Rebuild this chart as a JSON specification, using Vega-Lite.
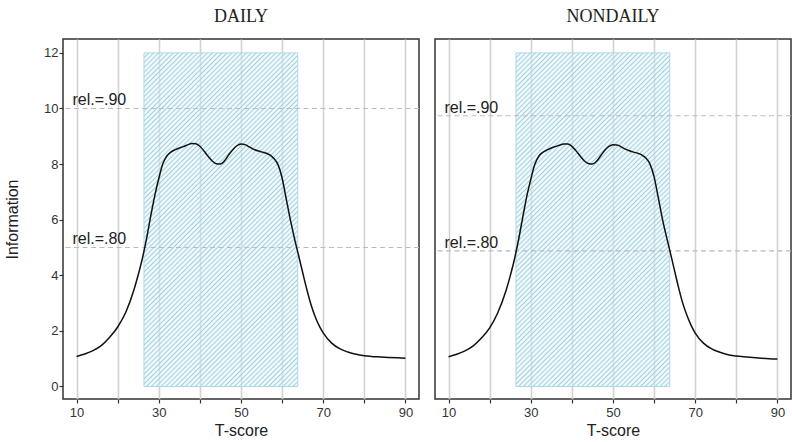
{
  "$schema": "https://vega.github.io/schema/vega-lite/v6.json",
  "padding": {"left": 3, "top": 7, "right": 0, "bottom": 0},
  "background": "white",
  "spacing": 12,
  "config": {
    "view": {"stroke": "#333", "strokeWidth": 1.5},
    "font": "Liberation Sans",
    "axis": {"domain": false, "tickColor": "#333", "tickSize": 4, "tickWidth": 1.2, "labelFont": "Liberation Sans", "labelFontSize": 13, "labelColor": "#333", "titleFont": "Liberation Sans", "titleFontSize": 16, "titleFontWeight": "normal", "titleColor": "#222"}
  },
  "datasets": {
    "box": [{"lo": 26.4, "hi": 63.8, "bottom": 0, "top": 12}],
    "curve_daily": [
      {"T":10,"I":1.08},{"T":12,"I":1.17},{"T":14,"I":1.29},{"T":16,"I":1.47},{"T":18,"I":1.76},{"T":20,"I":2.14},{"T":22,"I":2.68},{"T":24,"I":3.5},{"T":25,"I":4.02},{"T":26,"I":4.6},{"T":27,"I":5.3},{"T":28,"I":6.1},{"T":29,"I":6.85},{"T":30,"I":7.48},{"T":31,"I":8.02},{"T":32,"I":8.3},{"T":33,"I":8.44},{"T":34,"I":8.52},{"T":35,"I":8.58},{"T":36,"I":8.63},{"T":37,"I":8.69},{"T":38,"I":8.74},{"T":39,"I":8.73},{"T":40,"I":8.64},{"T":41,"I":8.47},{"T":42,"I":8.28},{"T":43,"I":8.11},{"T":44,"I":8.01},{"T":45,"I":8.0},{"T":46,"I":8.12},{"T":47,"I":8.33},{"T":48,"I":8.52},{"T":49,"I":8.66},{"T":50,"I":8.72},{"T":51,"I":8.7},{"T":52,"I":8.62},{"T":53,"I":8.54},{"T":54,"I":8.48},{"T":55,"I":8.44},{"T":56,"I":8.4},{"T":57,"I":8.33},{"T":58,"I":8.2},{"T":59,"I":7.98},{"T":60,"I":7.5},{"T":61,"I":6.75},{"T":62,"I":6.0},{"T":63,"I":5.33},{"T":64,"I":4.72},{"T":65,"I":4.1},{"T":66,"I":3.5},{"T":67,"I":2.96},{"T":68,"I":2.53},{"T":69,"I":2.19},{"T":70,"I":1.93},{"T":72,"I":1.57},{"T":74,"I":1.36},{"T":76,"I":1.24},{"T":78,"I":1.16},{"T":80,"I":1.11},{"T":84,"I":1.06},{"T":88,"I":1.03},{"T":90,"I":1.02}
    ],
    "curve_nondaily": [
      {"T":10,"I":1.07},{"T":12,"I":1.16},{"T":14,"I":1.28},{"T":16,"I":1.46},{"T":18,"I":1.74},{"T":20,"I":2.11},{"T":22,"I":2.66},{"T":24,"I":3.46},{"T":25,"I":3.98},{"T":26,"I":4.56},{"T":27,"I":5.26},{"T":28,"I":6.05},{"T":29,"I":6.82},{"T":30,"I":7.45},{"T":31,"I":8.0},{"T":32,"I":8.29},{"T":33,"I":8.43},{"T":34,"I":8.51},{"T":35,"I":8.58},{"T":36,"I":8.63},{"T":37,"I":8.68},{"T":38,"I":8.72},{"T":39,"I":8.72},{"T":40,"I":8.64},{"T":41,"I":8.48},{"T":42,"I":8.29},{"T":43,"I":8.12},{"T":44,"I":8.02},{"T":45,"I":8.0},{"T":46,"I":8.1},{"T":47,"I":8.3},{"T":48,"I":8.5},{"T":49,"I":8.64},{"T":50,"I":8.7},{"T":51,"I":8.69},{"T":52,"I":8.62},{"T":53,"I":8.54},{"T":54,"I":8.48},{"T":55,"I":8.43},{"T":56,"I":8.39},{"T":57,"I":8.33},{"T":58,"I":8.22},{"T":59,"I":8.0},{"T":60,"I":7.54},{"T":61,"I":6.8},{"T":62,"I":6.04},{"T":63,"I":5.39},{"T":64,"I":4.78},{"T":65,"I":4.15},{"T":66,"I":3.53},{"T":67,"I":2.98},{"T":68,"I":2.55},{"T":69,"I":2.2},{"T":70,"I":1.92},{"T":72,"I":1.56},{"T":74,"I":1.35},{"T":76,"I":1.23},{"T":78,"I":1.14},{"T":80,"I":1.1},{"T":84,"I":1.04},{"T":88,"I":1.0},{"T":90,"I":0.99}
    ],
    "ref_daily": [{"info": 10, "label": "rel.=.90"}, {"info": 5, "label": "rel.=.80"}],
    "ref_nondaily": [{"info": 9.74, "label": "rel.=.90"}, {"info": 4.88, "label": "rel.=.80"}]
  },
  "hconcat": [
    {
      "width": 356,
      "height": 360,
      "title": {"text": "DAILY", "font": "Liberation Serif", "fontSize": 18, "fontWeight": "normal", "color": "#222", "anchor": "middle", "frame": "group", "offset": 13},
      "layer": [
        {
          "data": {"name": "box"},
          "mark": {"type": "rect", "stroke": "#add8e6", "strokeWidth": 1,
            "fill": {"gradient": "linear", "x1": 0, "y1": 0, "x2": 0.5537, "y2": 1.2051, "stops": [
{"offset":0,"color":"#9fcfdf"},{"offset":0.0035,"color":"rgba(228,244,249,0.45)"},{"offset":0.0065,"color":"rgba(228,244,249,0.45)"},
{"offset":0.01,"color":"#9fcfdf"},{"offset":0.0135,"color":"rgba(228,244,249,0.45)"},{"offset":0.0165,"color":"rgba(228,244,249,0.45)"},
{"offset":0.02,"color":"#9fcfdf"},{"offset":0.0235,"color":"rgba(228,244,249,0.45)"},{"offset":0.0265,"color":"rgba(228,244,249,0.45)"},
{"offset":0.03,"color":"#9fcfdf"},{"offset":0.0335,"color":"rgba(228,244,249,0.45)"},{"offset":0.0365,"color":"rgba(228,244,249,0.45)"},
{"offset":0.04,"color":"#9fcfdf"},{"offset":0.0435,"color":"rgba(228,244,249,0.45)"},{"offset":0.0465,"color":"rgba(228,244,249,0.45)"},
{"offset":0.05,"color":"#9fcfdf"},{"offset":0.0535,"color":"rgba(228,244,249,0.45)"},{"offset":0.0565,"color":"rgba(228,244,249,0.45)"},
{"offset":0.06,"color":"#9fcfdf"},{"offset":0.0635,"color":"rgba(228,244,249,0.45)"},{"offset":0.0665,"color":"rgba(228,244,249,0.45)"},
{"offset":0.07,"color":"#9fcfdf"},{"offset":0.0735,"color":"rgba(228,244,249,0.45)"},{"offset":0.0765,"color":"rgba(228,244,249,0.45)"},
{"offset":0.08,"color":"#9fcfdf"},{"offset":0.0835,"color":"rgba(228,244,249,0.45)"},{"offset":0.0865,"color":"rgba(228,244,249,0.45)"},
{"offset":0.09,"color":"#9fcfdf"},{"offset":0.0935,"color":"rgba(228,244,249,0.45)"},{"offset":0.0965,"color":"rgba(228,244,249,0.45)"},
{"offset":0.10,"color":"#9fcfdf"},{"offset":0.1035,"color":"rgba(228,244,249,0.45)"},{"offset":0.1065,"color":"rgba(228,244,249,0.45)"},
{"offset":0.11,"color":"#9fcfdf"},{"offset":0.1135,"color":"rgba(228,244,249,0.45)"},{"offset":0.1165,"color":"rgba(228,244,249,0.45)"},
{"offset":0.12,"color":"#9fcfdf"},{"offset":0.1235,"color":"rgba(228,244,249,0.45)"},{"offset":0.1265,"color":"rgba(228,244,249,0.45)"},
{"offset":0.13,"color":"#9fcfdf"},{"offset":0.1335,"color":"rgba(228,244,249,0.45)"},{"offset":0.1365,"color":"rgba(228,244,249,0.45)"},
{"offset":0.14,"color":"#9fcfdf"},{"offset":0.1435,"color":"rgba(228,244,249,0.45)"},{"offset":0.1465,"color":"rgba(228,244,249,0.45)"},
{"offset":0.15,"color":"#9fcfdf"},{"offset":0.1535,"color":"rgba(228,244,249,0.45)"},{"offset":0.1565,"color":"rgba(228,244,249,0.45)"},
{"offset":0.16,"color":"#9fcfdf"},{"offset":0.1635,"color":"rgba(228,244,249,0.45)"},{"offset":0.1665,"color":"rgba(228,244,249,0.45)"},
{"offset":0.17,"color":"#9fcfdf"},{"offset":0.1735,"color":"rgba(228,244,249,0.45)"},{"offset":0.1765,"color":"rgba(228,244,249,0.45)"},
{"offset":0.18,"color":"#9fcfdf"},{"offset":0.1835,"color":"rgba(228,244,249,0.45)"},{"offset":0.1865,"color":"rgba(228,244,249,0.45)"},
{"offset":0.19,"color":"#9fcfdf"},{"offset":0.1935,"color":"rgba(228,244,249,0.45)"},{"offset":0.1965,"color":"rgba(228,244,249,0.45)"},
{"offset":0.20,"color":"#9fcfdf"},{"offset":0.2035,"color":"rgba(228,244,249,0.45)"},{"offset":0.2065,"color":"rgba(228,244,249,0.45)"},
{"offset":0.21,"color":"#9fcfdf"},{"offset":0.2135,"color":"rgba(228,244,249,0.45)"},{"offset":0.2165,"color":"rgba(228,244,249,0.45)"},
{"offset":0.22,"color":"#9fcfdf"},{"offset":0.2235,"color":"rgba(228,244,249,0.45)"},{"offset":0.2265,"color":"rgba(228,244,249,0.45)"},
{"offset":0.23,"color":"#9fcfdf"},{"offset":0.2335,"color":"rgba(228,244,249,0.45)"},{"offset":0.2365,"color":"rgba(228,244,249,0.45)"},
{"offset":0.24,"color":"#9fcfdf"},{"offset":0.2435,"color":"rgba(228,244,249,0.45)"},{"offset":0.2465,"color":"rgba(228,244,249,0.45)"},
{"offset":0.25,"color":"#9fcfdf"},{"offset":0.2535,"color":"rgba(228,244,249,0.45)"},{"offset":0.2565,"color":"rgba(228,244,249,0.45)"},
{"offset":0.26,"color":"#9fcfdf"},{"offset":0.2635,"color":"rgba(228,244,249,0.45)"},{"offset":0.2665,"color":"rgba(228,244,249,0.45)"},
{"offset":0.27,"color":"#9fcfdf"},{"offset":0.2735,"color":"rgba(228,244,249,0.45)"},{"offset":0.2765,"color":"rgba(228,244,249,0.45)"},
{"offset":0.28,"color":"#9fcfdf"},{"offset":0.2835,"color":"rgba(228,244,249,0.45)"},{"offset":0.2865,"color":"rgba(228,244,249,0.45)"},
{"offset":0.29,"color":"#9fcfdf"},{"offset":0.2935,"color":"rgba(228,244,249,0.45)"},{"offset":0.2965,"color":"rgba(228,244,249,0.45)"},
{"offset":0.30,"color":"#9fcfdf"},{"offset":0.3035,"color":"rgba(228,244,249,0.45)"},{"offset":0.3065,"color":"rgba(228,244,249,0.45)"},
{"offset":0.31,"color":"#9fcfdf"},{"offset":0.3135,"color":"rgba(228,244,249,0.45)"},{"offset":0.3165,"color":"rgba(228,244,249,0.45)"},
{"offset":0.32,"color":"#9fcfdf"},{"offset":0.3235,"color":"rgba(228,244,249,0.45)"},{"offset":0.3265,"color":"rgba(228,244,249,0.45)"},
{"offset":0.33,"color":"#9fcfdf"},{"offset":0.3335,"color":"rgba(228,244,249,0.45)"},{"offset":0.3365,"color":"rgba(228,244,249,0.45)"},
{"offset":0.34,"color":"#9fcfdf"},{"offset":0.3435,"color":"rgba(228,244,249,0.45)"},{"offset":0.3465,"color":"rgba(228,244,249,0.45)"},
{"offset":0.35,"color":"#9fcfdf"},{"offset":0.3535,"color":"rgba(228,244,249,0.45)"},{"offset":0.3565,"color":"rgba(228,244,249,0.45)"},
{"offset":0.36,"color":"#9fcfdf"},{"offset":0.3635,"color":"rgba(228,244,249,0.45)"},{"offset":0.3665,"color":"rgba(228,244,249,0.45)"},
{"offset":0.37,"color":"#9fcfdf"},{"offset":0.3735,"color":"rgba(228,244,249,0.45)"},{"offset":0.3765,"color":"rgba(228,244,249,0.45)"},
{"offset":0.38,"color":"#9fcfdf"},{"offset":0.3835,"color":"rgba(228,244,249,0.45)"},{"offset":0.3865,"color":"rgba(228,244,249,0.45)"},
{"offset":0.39,"color":"#9fcfdf"},{"offset":0.3935,"color":"rgba(228,244,249,0.45)"},{"offset":0.3965,"color":"rgba(228,244,249,0.45)"},
{"offset":0.40,"color":"#9fcfdf"},{"offset":0.4035,"color":"rgba(228,244,249,0.45)"},{"offset":0.4065,"color":"rgba(228,244,249,0.45)"},
{"offset":0.41,"color":"#9fcfdf"},{"offset":0.4135,"color":"rgba(228,244,249,0.45)"},{"offset":0.4165,"color":"rgba(228,244,249,0.45)"},
{"offset":0.42,"color":"#9fcfdf"},{"offset":0.4235,"color":"rgba(228,244,249,0.45)"},{"offset":0.4265,"color":"rgba(228,244,249,0.45)"},
{"offset":0.43,"color":"#9fcfdf"},{"offset":0.4335,"color":"rgba(228,244,249,0.45)"},{"offset":0.4365,"color":"rgba(228,244,249,0.45)"},
{"offset":0.44,"color":"#9fcfdf"},{"offset":0.4435,"color":"rgba(228,244,249,0.45)"},{"offset":0.4465,"color":"rgba(228,244,249,0.45)"},
{"offset":0.45,"color":"#9fcfdf"},{"offset":0.4535,"color":"rgba(228,244,249,0.45)"},{"offset":0.4565,"color":"rgba(228,244,249,0.45)"},
{"offset":0.46,"color":"#9fcfdf"},{"offset":0.4635,"color":"rgba(228,244,249,0.45)"},{"offset":0.4665,"color":"rgba(228,244,249,0.45)"},
{"offset":0.47,"color":"#9fcfdf"},{"offset":0.4735,"color":"rgba(228,244,249,0.45)"},{"offset":0.4765,"color":"rgba(228,244,249,0.45)"},
{"offset":0.48,"color":"#9fcfdf"},{"offset":0.4835,"color":"rgba(228,244,249,0.45)"},{"offset":0.4865,"color":"rgba(228,244,249,0.45)"},
{"offset":0.49,"color":"#9fcfdf"},{"offset":0.4935,"color":"rgba(228,244,249,0.45)"},{"offset":0.4965,"color":"rgba(228,244,249,0.45)"},
{"offset":0.50,"color":"#9fcfdf"},{"offset":0.5035,"color":"rgba(228,244,249,0.45)"},{"offset":0.5065,"color":"rgba(228,244,249,0.45)"},
{"offset":0.51,"color":"#9fcfdf"},{"offset":0.5135,"color":"rgba(228,244,249,0.45)"},{"offset":0.5165,"color":"rgba(228,244,249,0.45)"},
{"offset":0.52,"color":"#9fcfdf"},{"offset":0.5235,"color":"rgba(228,244,249,0.45)"},{"offset":0.5265,"color":"rgba(228,244,249,0.45)"},
{"offset":0.53,"color":"#9fcfdf"},{"offset":0.5335,"color":"rgba(228,244,249,0.45)"},{"offset":0.5365,"color":"rgba(228,244,249,0.45)"},
{"offset":0.54,"color":"#9fcfdf"},{"offset":0.5435,"color":"rgba(228,244,249,0.45)"},{"offset":0.5465,"color":"rgba(228,244,249,0.45)"},
{"offset":0.55,"color":"#9fcfdf"},{"offset":0.5535,"color":"rgba(228,244,249,0.45)"},{"offset":0.5565,"color":"rgba(228,244,249,0.45)"},
{"offset":0.56,"color":"#9fcfdf"},{"offset":0.5635,"color":"rgba(228,244,249,0.45)"},{"offset":0.5665,"color":"rgba(228,244,249,0.45)"},
{"offset":0.57,"color":"#9fcfdf"},{"offset":0.5735,"color":"rgba(228,244,249,0.45)"},{"offset":0.5765,"color":"rgba(228,244,249,0.45)"},
{"offset":0.58,"color":"#9fcfdf"},{"offset":0.5835,"color":"rgba(228,244,249,0.45)"},{"offset":0.5865,"color":"rgba(228,244,249,0.45)"},
{"offset":0.59,"color":"#9fcfdf"},{"offset":0.5935,"color":"rgba(228,244,249,0.45)"},{"offset":0.5965,"color":"rgba(228,244,249,0.45)"},
{"offset":0.60,"color":"#9fcfdf"},{"offset":0.6035,"color":"rgba(228,244,249,0.45)"},{"offset":0.6065,"color":"rgba(228,244,249,0.45)"},
{"offset":0.61,"color":"#9fcfdf"},{"offset":0.6135,"color":"rgba(228,244,249,0.45)"},{"offset":0.6165,"color":"rgba(228,244,249,0.45)"},
{"offset":0.62,"color":"#9fcfdf"},{"offset":0.6235,"color":"rgba(228,244,249,0.45)"},{"offset":0.6265,"color":"rgba(228,244,249,0.45)"},
{"offset":0.63,"color":"#9fcfdf"},{"offset":0.6335,"color":"rgba(228,244,249,0.45)"},{"offset":0.6365,"color":"rgba(228,244,249,0.45)"},
{"offset":0.64,"color":"#9fcfdf"},{"offset":0.6435,"color":"rgba(228,244,249,0.45)"},{"offset":0.6465,"color":"rgba(228,244,249,0.45)"},
{"offset":0.65,"color":"#9fcfdf"},{"offset":0.6535,"color":"rgba(228,244,249,0.45)"},{"offset":0.6565,"color":"rgba(228,244,249,0.45)"},
{"offset":0.66,"color":"#9fcfdf"},{"offset":0.6635,"color":"rgba(228,244,249,0.45)"},{"offset":0.6665,"color":"rgba(228,244,249,0.45)"},
{"offset":0.67,"color":"#9fcfdf"},{"offset":0.6735,"color":"rgba(228,244,249,0.45)"},{"offset":0.6765,"color":"rgba(228,244,249,0.45)"},
{"offset":0.68,"color":"#9fcfdf"},{"offset":0.6835,"color":"rgba(228,244,249,0.45)"},{"offset":0.6865,"color":"rgba(228,244,249,0.45)"},
{"offset":0.69,"color":"#9fcfdf"},{"offset":0.6935,"color":"rgba(228,244,249,0.45)"},{"offset":0.6965,"color":"rgba(228,244,249,0.45)"},
{"offset":0.70,"color":"#9fcfdf"},{"offset":0.7035,"color":"rgba(228,244,249,0.45)"},{"offset":0.7065,"color":"rgba(228,244,249,0.45)"},
{"offset":0.71,"color":"#9fcfdf"},{"offset":0.7135,"color":"rgba(228,244,249,0.45)"},{"offset":0.7165,"color":"rgba(228,244,249,0.45)"},
{"offset":0.72,"color":"#9fcfdf"},{"offset":0.7235,"color":"rgba(228,244,249,0.45)"},{"offset":0.7265,"color":"rgba(228,244,249,0.45)"},
{"offset":0.73,"color":"#9fcfdf"},{"offset":0.7335,"color":"rgba(228,244,249,0.45)"},{"offset":0.7365,"color":"rgba(228,244,249,0.45)"},
{"offset":0.74,"color":"#9fcfdf"},{"offset":0.7435,"color":"rgba(228,244,249,0.45)"},{"offset":0.7465,"color":"rgba(228,244,249,0.45)"},
{"offset":0.75,"color":"#9fcfdf"},{"offset":0.7535,"color":"rgba(228,244,249,0.45)"},{"offset":0.7565,"color":"rgba(228,244,249,0.45)"},
{"offset":0.76,"color":"#9fcfdf"},{"offset":0.7635,"color":"rgba(228,244,249,0.45)"},{"offset":0.7665,"color":"rgba(228,244,249,0.45)"},
{"offset":0.77,"color":"#9fcfdf"},{"offset":0.7735,"color":"rgba(228,244,249,0.45)"},{"offset":0.7765,"color":"rgba(228,244,249,0.45)"},
{"offset":0.78,"color":"#9fcfdf"},{"offset":0.7835,"color":"rgba(228,244,249,0.45)"},{"offset":0.7865,"color":"rgba(228,244,249,0.45)"},
{"offset":0.79,"color":"#9fcfdf"},{"offset":0.7935,"color":"rgba(228,244,249,0.45)"},{"offset":0.7965,"color":"rgba(228,244,249,0.45)"},
{"offset":0.80,"color":"#9fcfdf"},{"offset":0.8035,"color":"rgba(228,244,249,0.45)"},{"offset":0.8065,"color":"rgba(228,244,249,0.45)"},
{"offset":0.81,"color":"#9fcfdf"},{"offset":0.8135,"color":"rgba(228,244,249,0.45)"},{"offset":0.8165,"color":"rgba(228,244,249,0.45)"},
{"offset":0.82,"color":"#9fcfdf"},{"offset":0.8235,"color":"rgba(228,244,249,0.45)"},{"offset":0.8265,"color":"rgba(228,244,249,0.45)"},
{"offset":0.83,"color":"#9fcfdf"},{"offset":0.8335,"color":"rgba(228,244,249,0.45)"},{"offset":0.8365,"color":"rgba(228,244,249,0.45)"},
{"offset":0.84,"color":"#9fcfdf"},{"offset":0.8435,"color":"rgba(228,244,249,0.45)"},{"offset":0.8465,"color":"rgba(228,244,249,0.45)"},
{"offset":0.85,"color":"#9fcfdf"},{"offset":0.8535,"color":"rgba(228,244,249,0.45)"},{"offset":0.8565,"color":"rgba(228,244,249,0.45)"},
{"offset":0.86,"color":"#9fcfdf"},{"offset":0.8635,"color":"rgba(228,244,249,0.45)"},{"offset":0.8665,"color":"rgba(228,244,249,0.45)"},
{"offset":0.87,"color":"#9fcfdf"},{"offset":0.8735,"color":"rgba(228,244,249,0.45)"},{"offset":0.8765,"color":"rgba(228,244,249,0.45)"},
{"offset":0.88,"color":"#9fcfdf"},{"offset":0.8835,"color":"rgba(228,244,249,0.45)"},{"offset":0.8865,"color":"rgba(228,244,249,0.45)"},
{"offset":0.89,"color":"#9fcfdf"},{"offset":0.8935,"color":"rgba(228,244,249,0.45)"},{"offset":0.8965,"color":"rgba(228,244,249,0.45)"},
{"offset":0.90,"color":"#9fcfdf"},{"offset":0.9035,"color":"rgba(228,244,249,0.45)"},{"offset":0.9065,"color":"rgba(228,244,249,0.45)"},
{"offset":0.91,"color":"#9fcfdf"},{"offset":0.9135,"color":"rgba(228,244,249,0.45)"},{"offset":0.9165,"color":"rgba(228,244,249,0.45)"},
{"offset":0.92,"color":"#9fcfdf"},{"offset":0.9235,"color":"rgba(228,244,249,0.45)"},{"offset":0.9265,"color":"rgba(228,244,249,0.45)"},
{"offset":0.93,"color":"#9fcfdf"},{"offset":0.9335,"color":"rgba(228,244,249,0.45)"},{"offset":0.9365,"color":"rgba(228,244,249,0.45)"},
{"offset":0.94,"color":"#9fcfdf"},{"offset":0.9435,"color":"rgba(228,244,249,0.45)"},{"offset":0.9465,"color":"rgba(228,244,249,0.45)"},
{"offset":0.95,"color":"#9fcfdf"},{"offset":0.9535,"color":"rgba(228,244,249,0.45)"},{"offset":0.9565,"color":"rgba(228,244,249,0.45)"},
{"offset":0.96,"color":"#9fcfdf"},{"offset":0.9635,"color":"rgba(228,244,249,0.45)"},{"offset":0.9665,"color":"rgba(228,244,249,0.45)"},
{"offset":0.97,"color":"#9fcfdf"},{"offset":0.9735,"color":"rgba(228,244,249,0.45)"},{"offset":0.9765,"color":"rgba(228,244,249,0.45)"},
{"offset":0.98,"color":"#9fcfdf"},{"offset":0.9835,"color":"rgba(228,244,249,0.45)"},{"offset":0.9865,"color":"rgba(228,244,249,0.45)"},
{"offset":0.99,"color":"#9fcfdf"},{"offset":0.9935,"color":"rgba(228,244,249,0.45)"},{"offset":0.9965,"color":"rgba(228,244,249,0.45)"},
{"offset":1,"color":"#9fcfdf"}
            ]}},
          "encoding": {
            "x": {"field": "lo", "type": "quantitative", "title": "T-score", "scale": {"domain": [6.7, 93.3], "nice": false, "zero": false},
                  "axis": {"values": [10,20,30,40,50,60,70,80,90], "labelExpr": "datum.value % 20 == 10 ? datum.label : ''", "labelOverlap": false, "labelFlush": false, "grid": true, "gridColor": "#d2d2d2", "gridWidth": 1.6, "labelPadding": 3, "titlePadding": 3}},
            "x2": {"field": "hi"},
            "y": {"field": "bottom", "type": "quantitative", "title": "Information", "scale": {"domain": [-0.45, 12.5], "nice": false, "zero": false},
                  "axis": {"values": [0,2,4,6,8,10,12], "grid": false, "labelPadding": 1, "titlePadding": 23}},
            "y2": {"field": "top"}
          }
        },
        {
          "data": {"name": "ref_daily"},
          "mark": {"type": "rule", "color": "#bbbbbb", "strokeDash": [5, 3.5], "strokeWidth": 1.2},
          "encoding": {"y": {"field": "info", "type": "quantitative", "title": "Information", "scale": {"domain": [-0.45, 12.5], "nice": false, "zero": false}}}
        },
        {
          "data": {"name": "curve_daily"},
          "mark": {"type": "line", "color": "#111", "strokeWidth": 1.5, "interpolate": "monotone"},
          "encoding": {
            "x": {"field": "T", "type": "quantitative", "title": "T-score", "scale": {"domain": [6.7, 93.3], "nice": false, "zero": false}},
            "y": {"field": "I", "type": "quantitative", "title": "Information", "scale": {"domain": [-0.45, 12.5], "nice": false, "zero": false}}
          }
        },
        {
          "data": {"name": "ref_daily"},
          "mark": {"type": "text", "align": "left", "baseline": "alphabetic", "dy": -3, "fontSize": 16, "color": "#222", "font": "Liberation Sans"},
          "encoding": {
            "x": {"datum": 9, "type": "quantitative"},
            "y": {"field": "info", "type": "quantitative", "title": "Information"},
            "text": {"field": "label"}
          }
        }
      ]
    },
    {
      "width": 356,
      "height": 360,
      "title": {"text": "NONDAILY", "font": "Liberation Serif", "fontSize": 18, "fontWeight": "normal", "color": "#222", "anchor": "middle", "frame": "group", "offset": 13},
      "layer": [
        {
          "data": {"name": "box"},
          "mark": {"type": "rect", "stroke": "#add8e6", "strokeWidth": 1,
            "fill": {"gradient": "linear", "x1": 0, "y1": 0, "x2": 0.5537, "y2": 1.2051, "stops": [
{"offset":0,"color":"#9fcfdf"},{"offset":0.0035,"color":"rgba(228,244,249,0.45)"},{"offset":0.0065,"color":"rgba(228,244,249,0.45)"},
{"offset":0.01,"color":"#9fcfdf"},{"offset":0.0135,"color":"rgba(228,244,249,0.45)"},{"offset":0.0165,"color":"rgba(228,244,249,0.45)"},
{"offset":0.02,"color":"#9fcfdf"},{"offset":0.0235,"color":"rgba(228,244,249,0.45)"},{"offset":0.0265,"color":"rgba(228,244,249,0.45)"},
{"offset":0.03,"color":"#9fcfdf"},{"offset":0.0335,"color":"rgba(228,244,249,0.45)"},{"offset":0.0365,"color":"rgba(228,244,249,0.45)"},
{"offset":0.04,"color":"#9fcfdf"},{"offset":0.0435,"color":"rgba(228,244,249,0.45)"},{"offset":0.0465,"color":"rgba(228,244,249,0.45)"},
{"offset":0.05,"color":"#9fcfdf"},{"offset":0.0535,"color":"rgba(228,244,249,0.45)"},{"offset":0.0565,"color":"rgba(228,244,249,0.45)"},
{"offset":0.06,"color":"#9fcfdf"},{"offset":0.0635,"color":"rgba(228,244,249,0.45)"},{"offset":0.0665,"color":"rgba(228,244,249,0.45)"},
{"offset":0.07,"color":"#9fcfdf"},{"offset":0.0735,"color":"rgba(228,244,249,0.45)"},{"offset":0.0765,"color":"rgba(228,244,249,0.45)"},
{"offset":0.08,"color":"#9fcfdf"},{"offset":0.0835,"color":"rgba(228,244,249,0.45)"},{"offset":0.0865,"color":"rgba(228,244,249,0.45)"},
{"offset":0.09,"color":"#9fcfdf"},{"offset":0.0935,"color":"rgba(228,244,249,0.45)"},{"offset":0.0965,"color":"rgba(228,244,249,0.45)"},
{"offset":0.10,"color":"#9fcfdf"},{"offset":0.1035,"color":"rgba(228,244,249,0.45)"},{"offset":0.1065,"color":"rgba(228,244,249,0.45)"},
{"offset":0.11,"color":"#9fcfdf"},{"offset":0.1135,"color":"rgba(228,244,249,0.45)"},{"offset":0.1165,"color":"rgba(228,244,249,0.45)"},
{"offset":0.12,"color":"#9fcfdf"},{"offset":0.1235,"color":"rgba(228,244,249,0.45)"},{"offset":0.1265,"color":"rgba(228,244,249,0.45)"},
{"offset":0.13,"color":"#9fcfdf"},{"offset":0.1335,"color":"rgba(228,244,249,0.45)"},{"offset":0.1365,"color":"rgba(228,244,249,0.45)"},
{"offset":0.14,"color":"#9fcfdf"},{"offset":0.1435,"color":"rgba(228,244,249,0.45)"},{"offset":0.1465,"color":"rgba(228,244,249,0.45)"},
{"offset":0.15,"color":"#9fcfdf"},{"offset":0.1535,"color":"rgba(228,244,249,0.45)"},{"offset":0.1565,"color":"rgba(228,244,249,0.45)"},
{"offset":0.16,"color":"#9fcfdf"},{"offset":0.1635,"color":"rgba(228,244,249,0.45)"},{"offset":0.1665,"color":"rgba(228,244,249,0.45)"},
{"offset":0.17,"color":"#9fcfdf"},{"offset":0.1735,"color":"rgba(228,244,249,0.45)"},{"offset":0.1765,"color":"rgba(228,244,249,0.45)"},
{"offset":0.18,"color":"#9fcfdf"},{"offset":0.1835,"color":"rgba(228,244,249,0.45)"},{"offset":0.1865,"color":"rgba(228,244,249,0.45)"},
{"offset":0.19,"color":"#9fcfdf"},{"offset":0.1935,"color":"rgba(228,244,249,0.45)"},{"offset":0.1965,"color":"rgba(228,244,249,0.45)"},
{"offset":0.20,"color":"#9fcfdf"},{"offset":0.2035,"color":"rgba(228,244,249,0.45)"},{"offset":0.2065,"color":"rgba(228,244,249,0.45)"},
{"offset":0.21,"color":"#9fcfdf"},{"offset":0.2135,"color":"rgba(228,244,249,0.45)"},{"offset":0.2165,"color":"rgba(228,244,249,0.45)"},
{"offset":0.22,"color":"#9fcfdf"},{"offset":0.2235,"color":"rgba(228,244,249,0.45)"},{"offset":0.2265,"color":"rgba(228,244,249,0.45)"},
{"offset":0.23,"color":"#9fcfdf"},{"offset":0.2335,"color":"rgba(228,244,249,0.45)"},{"offset":0.2365,"color":"rgba(228,244,249,0.45)"},
{"offset":0.24,"color":"#9fcfdf"},{"offset":0.2435,"color":"rgba(228,244,249,0.45)"},{"offset":0.2465,"color":"rgba(228,244,249,0.45)"},
{"offset":0.25,"color":"#9fcfdf"},{"offset":0.2535,"color":"rgba(228,244,249,0.45)"},{"offset":0.2565,"color":"rgba(228,244,249,0.45)"},
{"offset":0.26,"color":"#9fcfdf"},{"offset":0.2635,"color":"rgba(228,244,249,0.45)"},{"offset":0.2665,"color":"rgba(228,244,249,0.45)"},
{"offset":0.27,"color":"#9fcfdf"},{"offset":0.2735,"color":"rgba(228,244,249,0.45)"},{"offset":0.2765,"color":"rgba(228,244,249,0.45)"},
{"offset":0.28,"color":"#9fcfdf"},{"offset":0.2835,"color":"rgba(228,244,249,0.45)"},{"offset":0.2865,"color":"rgba(228,244,249,0.45)"},
{"offset":0.29,"color":"#9fcfdf"},{"offset":0.2935,"color":"rgba(228,244,249,0.45)"},{"offset":0.2965,"color":"rgba(228,244,249,0.45)"},
{"offset":0.30,"color":"#9fcfdf"},{"offset":0.3035,"color":"rgba(228,244,249,0.45)"},{"offset":0.3065,"color":"rgba(228,244,249,0.45)"},
{"offset":0.31,"color":"#9fcfdf"},{"offset":0.3135,"color":"rgba(228,244,249,0.45)"},{"offset":0.3165,"color":"rgba(228,244,249,0.45)"},
{"offset":0.32,"color":"#9fcfdf"},{"offset":0.3235,"color":"rgba(228,244,249,0.45)"},{"offset":0.3265,"color":"rgba(228,244,249,0.45)"},
{"offset":0.33,"color":"#9fcfdf"},{"offset":0.3335,"color":"rgba(228,244,249,0.45)"},{"offset":0.3365,"color":"rgba(228,244,249,0.45)"},
{"offset":0.34,"color":"#9fcfdf"},{"offset":0.3435,"color":"rgba(228,244,249,0.45)"},{"offset":0.3465,"color":"rgba(228,244,249,0.45)"},
{"offset":0.35,"color":"#9fcfdf"},{"offset":0.3535,"color":"rgba(228,244,249,0.45)"},{"offset":0.3565,"color":"rgba(228,244,249,0.45)"},
{"offset":0.36,"color":"#9fcfdf"},{"offset":0.3635,"color":"rgba(228,244,249,0.45)"},{"offset":0.3665,"color":"rgba(228,244,249,0.45)"},
{"offset":0.37,"color":"#9fcfdf"},{"offset":0.3735,"color":"rgba(228,244,249,0.45)"},{"offset":0.3765,"color":"rgba(228,244,249,0.45)"},
{"offset":0.38,"color":"#9fcfdf"},{"offset":0.3835,"color":"rgba(228,244,249,0.45)"},{"offset":0.3865,"color":"rgba(228,244,249,0.45)"},
{"offset":0.39,"color":"#9fcfdf"},{"offset":0.3935,"color":"rgba(228,244,249,0.45)"},{"offset":0.3965,"color":"rgba(228,244,249,0.45)"},
{"offset":0.40,"color":"#9fcfdf"},{"offset":0.4035,"color":"rgba(228,244,249,0.45)"},{"offset":0.4065,"color":"rgba(228,244,249,0.45)"},
{"offset":0.41,"color":"#9fcfdf"},{"offset":0.4135,"color":"rgba(228,244,249,0.45)"},{"offset":0.4165,"color":"rgba(228,244,249,0.45)"},
{"offset":0.42,"color":"#9fcfdf"},{"offset":0.4235,"color":"rgba(228,244,249,0.45)"},{"offset":0.4265,"color":"rgba(228,244,249,0.45)"},
{"offset":0.43,"color":"#9fcfdf"},{"offset":0.4335,"color":"rgba(228,244,249,0.45)"},{"offset":0.4365,"color":"rgba(228,244,249,0.45)"},
{"offset":0.44,"color":"#9fcfdf"},{"offset":0.4435,"color":"rgba(228,244,249,0.45)"},{"offset":0.4465,"color":"rgba(228,244,249,0.45)"},
{"offset":0.45,"color":"#9fcfdf"},{"offset":0.4535,"color":"rgba(228,244,249,0.45)"},{"offset":0.4565,"color":"rgba(228,244,249,0.45)"},
{"offset":0.46,"color":"#9fcfdf"},{"offset":0.4635,"color":"rgba(228,244,249,0.45)"},{"offset":0.4665,"color":"rgba(228,244,249,0.45)"},
{"offset":0.47,"color":"#9fcfdf"},{"offset":0.4735,"color":"rgba(228,244,249,0.45)"},{"offset":0.4765,"color":"rgba(228,244,249,0.45)"},
{"offset":0.48,"color":"#9fcfdf"},{"offset":0.4835,"color":"rgba(228,244,249,0.45)"},{"offset":0.4865,"color":"rgba(228,244,249,0.45)"},
{"offset":0.49,"color":"#9fcfdf"},{"offset":0.4935,"color":"rgba(228,244,249,0.45)"},{"offset":0.4965,"color":"rgba(228,244,249,0.45)"},
{"offset":0.50,"color":"#9fcfdf"},{"offset":0.5035,"color":"rgba(228,244,249,0.45)"},{"offset":0.5065,"color":"rgba(228,244,249,0.45)"},
{"offset":0.51,"color":"#9fcfdf"},{"offset":0.5135,"color":"rgba(228,244,249,0.45)"},{"offset":0.5165,"color":"rgba(228,244,249,0.45)"},
{"offset":0.52,"color":"#9fcfdf"},{"offset":0.5235,"color":"rgba(228,244,249,0.45)"},{"offset":0.5265,"color":"rgba(228,244,249,0.45)"},
{"offset":0.53,"color":"#9fcfdf"},{"offset":0.5335,"color":"rgba(228,244,249,0.45)"},{"offset":0.5365,"color":"rgba(228,244,249,0.45)"},
{"offset":0.54,"color":"#9fcfdf"},{"offset":0.5435,"color":"rgba(228,244,249,0.45)"},{"offset":0.5465,"color":"rgba(228,244,249,0.45)"},
{"offset":0.55,"color":"#9fcfdf"},{"offset":0.5535,"color":"rgba(228,244,249,0.45)"},{"offset":0.5565,"color":"rgba(228,244,249,0.45)"},
{"offset":0.56,"color":"#9fcfdf"},{"offset":0.5635,"color":"rgba(228,244,249,0.45)"},{"offset":0.5665,"color":"rgba(228,244,249,0.45)"},
{"offset":0.57,"color":"#9fcfdf"},{"offset":0.5735,"color":"rgba(228,244,249,0.45)"},{"offset":0.5765,"color":"rgba(228,244,249,0.45)"},
{"offset":0.58,"color":"#9fcfdf"},{"offset":0.5835,"color":"rgba(228,244,249,0.45)"},{"offset":0.5865,"color":"rgba(228,244,249,0.45)"},
{"offset":0.59,"color":"#9fcfdf"},{"offset":0.5935,"color":"rgba(228,244,249,0.45)"},{"offset":0.5965,"color":"rgba(228,244,249,0.45)"},
{"offset":0.60,"color":"#9fcfdf"},{"offset":0.6035,"color":"rgba(228,244,249,0.45)"},{"offset":0.6065,"color":"rgba(228,244,249,0.45)"},
{"offset":0.61,"color":"#9fcfdf"},{"offset":0.6135,"color":"rgba(228,244,249,0.45)"},{"offset":0.6165,"color":"rgba(228,244,249,0.45)"},
{"offset":0.62,"color":"#9fcfdf"},{"offset":0.6235,"color":"rgba(228,244,249,0.45)"},{"offset":0.6265,"color":"rgba(228,244,249,0.45)"},
{"offset":0.63,"color":"#9fcfdf"},{"offset":0.6335,"color":"rgba(228,244,249,0.45)"},{"offset":0.6365,"color":"rgba(228,244,249,0.45)"},
{"offset":0.64,"color":"#9fcfdf"},{"offset":0.6435,"color":"rgba(228,244,249,0.45)"},{"offset":0.6465,"color":"rgba(228,244,249,0.45)"},
{"offset":0.65,"color":"#9fcfdf"},{"offset":0.6535,"color":"rgba(228,244,249,0.45)"},{"offset":0.6565,"color":"rgba(228,244,249,0.45)"},
{"offset":0.66,"color":"#9fcfdf"},{"offset":0.6635,"color":"rgba(228,244,249,0.45)"},{"offset":0.6665,"color":"rgba(228,244,249,0.45)"},
{"offset":0.67,"color":"#9fcfdf"},{"offset":0.6735,"color":"rgba(228,244,249,0.45)"},{"offset":0.6765,"color":"rgba(228,244,249,0.45)"},
{"offset":0.68,"color":"#9fcfdf"},{"offset":0.6835,"color":"rgba(228,244,249,0.45)"},{"offset":0.6865,"color":"rgba(228,244,249,0.45)"},
{"offset":0.69,"color":"#9fcfdf"},{"offset":0.6935,"color":"rgba(228,244,249,0.45)"},{"offset":0.6965,"color":"rgba(228,244,249,0.45)"},
{"offset":0.70,"color":"#9fcfdf"},{"offset":0.7035,"color":"rgba(228,244,249,0.45)"},{"offset":0.7065,"color":"rgba(228,244,249,0.45)"},
{"offset":0.71,"color":"#9fcfdf"},{"offset":0.7135,"color":"rgba(228,244,249,0.45)"},{"offset":0.7165,"color":"rgba(228,244,249,0.45)"},
{"offset":0.72,"color":"#9fcfdf"},{"offset":0.7235,"color":"rgba(228,244,249,0.45)"},{"offset":0.7265,"color":"rgba(228,244,249,0.45)"},
{"offset":0.73,"color":"#9fcfdf"},{"offset":0.7335,"color":"rgba(228,244,249,0.45)"},{"offset":0.7365,"color":"rgba(228,244,249,0.45)"},
{"offset":0.74,"color":"#9fcfdf"},{"offset":0.7435,"color":"rgba(228,244,249,0.45)"},{"offset":0.7465,"color":"rgba(228,244,249,0.45)"},
{"offset":0.75,"color":"#9fcfdf"},{"offset":0.7535,"color":"rgba(228,244,249,0.45)"},{"offset":0.7565,"color":"rgba(228,244,249,0.45)"},
{"offset":0.76,"color":"#9fcfdf"},{"offset":0.7635,"color":"rgba(228,244,249,0.45)"},{"offset":0.7665,"color":"rgba(228,244,249,0.45)"},
{"offset":0.77,"color":"#9fcfdf"},{"offset":0.7735,"color":"rgba(228,244,249,0.45)"},{"offset":0.7765,"color":"rgba(228,244,249,0.45)"},
{"offset":0.78,"color":"#9fcfdf"},{"offset":0.7835,"color":"rgba(228,244,249,0.45)"},{"offset":0.7865,"color":"rgba(228,244,249,0.45)"},
{"offset":0.79,"color":"#9fcfdf"},{"offset":0.7935,"color":"rgba(228,244,249,0.45)"},{"offset":0.7965,"color":"rgba(228,244,249,0.45)"},
{"offset":0.80,"color":"#9fcfdf"},{"offset":0.8035,"color":"rgba(228,244,249,0.45)"},{"offset":0.8065,"color":"rgba(228,244,249,0.45)"},
{"offset":0.81,"color":"#9fcfdf"},{"offset":0.8135,"color":"rgba(228,244,249,0.45)"},{"offset":0.8165,"color":"rgba(228,244,249,0.45)"},
{"offset":0.82,"color":"#9fcfdf"},{"offset":0.8235,"color":"rgba(228,244,249,0.45)"},{"offset":0.8265,"color":"rgba(228,244,249,0.45)"},
{"offset":0.83,"color":"#9fcfdf"},{"offset":0.8335,"color":"rgba(228,244,249,0.45)"},{"offset":0.8365,"color":"rgba(228,244,249,0.45)"},
{"offset":0.84,"color":"#9fcfdf"},{"offset":0.8435,"color":"rgba(228,244,249,0.45)"},{"offset":0.8465,"color":"rgba(228,244,249,0.45)"},
{"offset":0.85,"color":"#9fcfdf"},{"offset":0.8535,"color":"rgba(228,244,249,0.45)"},{"offset":0.8565,"color":"rgba(228,244,249,0.45)"},
{"offset":0.86,"color":"#9fcfdf"},{"offset":0.8635,"color":"rgba(228,244,249,0.45)"},{"offset":0.8665,"color":"rgba(228,244,249,0.45)"},
{"offset":0.87,"color":"#9fcfdf"},{"offset":0.8735,"color":"rgba(228,244,249,0.45)"},{"offset":0.8765,"color":"rgba(228,244,249,0.45)"},
{"offset":0.88,"color":"#9fcfdf"},{"offset":0.8835,"color":"rgba(228,244,249,0.45)"},{"offset":0.8865,"color":"rgba(228,244,249,0.45)"},
{"offset":0.89,"color":"#9fcfdf"},{"offset":0.8935,"color":"rgba(228,244,249,0.45)"},{"offset":0.8965,"color":"rgba(228,244,249,0.45)"},
{"offset":0.90,"color":"#9fcfdf"},{"offset":0.9035,"color":"rgba(228,244,249,0.45)"},{"offset":0.9065,"color":"rgba(228,244,249,0.45)"},
{"offset":0.91,"color":"#9fcfdf"},{"offset":0.9135,"color":"rgba(228,244,249,0.45)"},{"offset":0.9165,"color":"rgba(228,244,249,0.45)"},
{"offset":0.92,"color":"#9fcfdf"},{"offset":0.9235,"color":"rgba(228,244,249,0.45)"},{"offset":0.9265,"color":"rgba(228,244,249,0.45)"},
{"offset":0.93,"color":"#9fcfdf"},{"offset":0.9335,"color":"rgba(228,244,249,0.45)"},{"offset":0.9365,"color":"rgba(228,244,249,0.45)"},
{"offset":0.94,"color":"#9fcfdf"},{"offset":0.9435,"color":"rgba(228,244,249,0.45)"},{"offset":0.9465,"color":"rgba(228,244,249,0.45)"},
{"offset":0.95,"color":"#9fcfdf"},{"offset":0.9535,"color":"rgba(228,244,249,0.45)"},{"offset":0.9565,"color":"rgba(228,244,249,0.45)"},
{"offset":0.96,"color":"#9fcfdf"},{"offset":0.9635,"color":"rgba(228,244,249,0.45)"},{"offset":0.9665,"color":"rgba(228,244,249,0.45)"},
{"offset":0.97,"color":"#9fcfdf"},{"offset":0.9735,"color":"rgba(228,244,249,0.45)"},{"offset":0.9765,"color":"rgba(228,244,249,0.45)"},
{"offset":0.98,"color":"#9fcfdf"},{"offset":0.9835,"color":"rgba(228,244,249,0.45)"},{"offset":0.9865,"color":"rgba(228,244,249,0.45)"},
{"offset":0.99,"color":"#9fcfdf"},{"offset":0.9935,"color":"rgba(228,244,249,0.45)"},{"offset":0.9965,"color":"rgba(228,244,249,0.45)"},
{"offset":1,"color":"#9fcfdf"}
            ]}},
          "encoding": {
            "x": {"field": "lo", "type": "quantitative", "title": "T-score", "scale": {"domain": [6.7, 93.3], "nice": false, "zero": false},
                  "axis": {"values": [10,20,30,40,50,60,70,80,90], "labelExpr": "datum.value % 20 == 10 ? datum.label : ''", "labelOverlap": false, "labelFlush": false, "grid": true, "gridColor": "#d2d2d2", "gridWidth": 1.6, "labelPadding": 3, "titlePadding": 3}},
            "x2": {"field": "hi"},
            "y": {"field": "bottom", "type": "quantitative", "scale": {"domain": [-0.45, 12.5], "nice": false, "zero": false}, "axis": null},
            "y2": {"field": "top"}
          }
        },
        {
          "data": {"name": "ref_nondaily"},
          "mark": {"type": "rule", "color": "#bbbbbb", "strokeDash": [5, 3.5], "strokeWidth": 1.2},
          "encoding": {"y": {"field": "info", "type": "quantitative", "scale": {"domain": [-0.45, 12.5], "nice": false, "zero": false}, "axis": null}}
        },
        {
          "data": {"name": "curve_nondaily"},
          "mark": {"type": "line", "color": "#111", "strokeWidth": 1.5, "interpolate": "monotone"},
          "encoding": {
            "x": {"field": "T", "type": "quantitative", "title": "T-score", "scale": {"domain": [6.7, 93.3], "nice": false, "zero": false}},
            "y": {"field": "I", "type": "quantitative", "scale": {"domain": [-0.45, 12.5], "nice": false, "zero": false}, "axis": null}
          }
        },
        {
          "data": {"name": "ref_nondaily"},
          "mark": {"type": "text", "align": "left", "baseline": "alphabetic", "dy": -3, "fontSize": 16, "color": "#222", "font": "Liberation Sans"},
          "encoding": {
            "x": {"datum": 9, "type": "quantitative"},
            "y": {"field": "info", "type": "quantitative", "axis": null},
            "text": {"field": "label"}
          }
        }
      ]
    }
  ]
}
